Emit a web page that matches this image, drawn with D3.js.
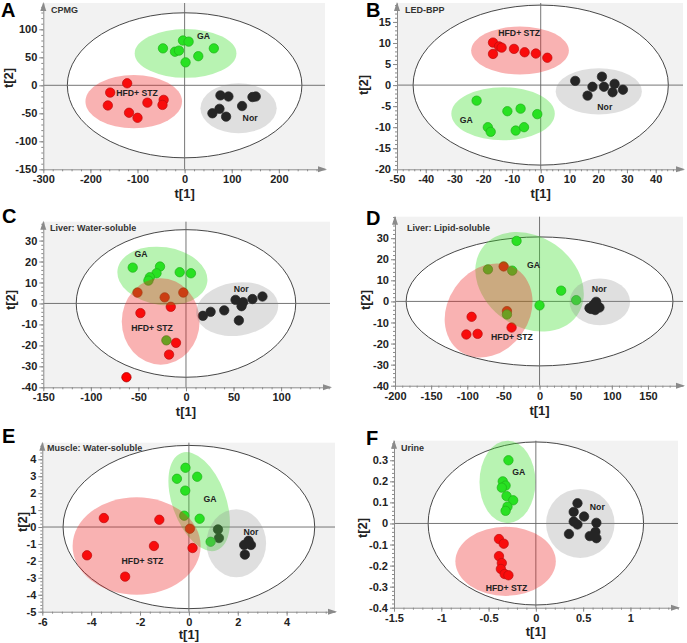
<!DOCTYPE html>
<html>
<head>
<meta charset="utf-8">
<script src="https://cdn.jsdelivr.net/npm/d3@7"></script>
<style>
  body { margin: 0; background: #fff; }
  svg { display: block; font-family: "Liberation Sans", Arial, sans-serif; }
  .tick text { font-size: 11px; font-weight: bold; fill: #222; }
  .axis path, .axis line { stroke: #8a8a8a; }
</style>
</head>
<body>
<svg id="chart" width="687" height="643"></svg>
<script>
// Score plots (t[1] vs t[2]) for six sample types

// A: CPMG
const cpmgGA = [[-46, 66], [-3.5, 80], [8.5, 78], [-20.5, 60], [-12, 62], [29, 52], [62, 66], [2, 41]];
const cpmgHFD = [[-122, 3.6], [-158, -13], [-163, -36], [-118, -49], [-100, -58], [-79, -31], [-44.5, -26], [-47, -35]];
const cpmgNor = [[76, -18], [93, -20], [74, -42], [59, -50], [88, -56], [122, -37], [144, -21], [151, -20]];

// B: LED-BPP
const ledGA = [[-22.3, -3.7], [-11.6, -6.2], [-7, -5.6], [-1.2, -6.9], [-18.4, -10], [-17.4, -11.1], [-8.7, -10.8], [-5.8, -10]];
const ledHFD = [[-16.6, 10.1], [-16.6, 7.4], [-14.5, 9.2], [-13.6, 8.9], [-9.3, 8.6], [-5.6, 7.8], [-1.7, 7.5], [2.3, 6.5]];
const ledNor = [[12, 1], [21.3, 2], [18, -0.4], [22, -0.4], [25.7, 0.3], [25, -1.7], [28.6, -1.1], [16.3, -2.5]];

// C: Liver water-soluble
const lwGA = [[-56, 17.1], [-27.3, 17.6], [-31, 14.4], [-38, 12.5], [-39.5, 10.9], [-6.6, 14.9], [5.2, 14.4], [-20.6, -17.6]];
const lwHFD = [[-51, 5.2], [-22.4, 2.9], [-2.8, 5.2], [-16, -1.6], [-47.9, -4.6], [-10.5, -18.8], [-17.8, -24.4], [-62.6, -35.2]];
const lwNor = [[17.8, -5.9], [25.9, -4], [40.2, -3.3], [52.1, 1.7], [60.1, 0.6], [58.4, -1.3], [69.9, 2.1], [80.4, 3.3], [55.6, -8.1]];

// D: Liver lipid-soluble
const llGA = [[-31.8, 28.7], [-71.4, 15.2], [-37.8, 14.6], [29.9, 5.1], [50.7, 0.6], [0, -1.9], [-45.1, -6.2]];
const llHFD = [[-49.7, 16.6], [-45.1, -4.6], [-94, -7.3], [-101.3, -15.7], [-85.7, -15.4], [-38.7, -12.4]];
const llNor = [[78.3, -0.2], [80.1, -2.2], [71.4, -3.6], [76.9, -4.1], [82.9, -2.9], [74.6, -1.7], [69.1, -3.2]];

// E: Muscle water-soluble
const mwGA = [[-0.14, 3.5], [-0.49, 2.85], [0.34, 2.97], [-0.15, 2.15], [-0.19, 0.67], [0.44, 0.49], [0.89, -0.87]];
const mwHFD = [[-3.48, 0.53], [-1.21, 0.43], [-1.43, -1.12], [-4.17, -1.67], [-2.61, -2.93], [0.15, -1.24], [0.04, -0.1]];
const mwNor = [[1.19, -0.14], [1.23, -0.65], [2.26, -1.06], [2.44, -0.81], [2.54, -1.06], [2.29, -1.63]];

// F: Urine
const urGA = [[-0.29, 0.30], [-0.35, 0.2], [-0.32, 0.18], [-0.36, 0.17], [-0.31, 0.13], [-0.24, 0.11], [-0.3, 0.08], [-0.32, 0.06]];
const urHFD = [[-0.39, -0.074], [-0.34, -0.096], [-0.39, -0.155], [-0.36, -0.188], [-0.37, -0.216], [-0.33, -0.24], [-0.29, -0.246]];
const urNor = [[0.44, 0.096], [0.40, 0.055], [0.51, 0.033], [0.40, 0.009], [0.44, -0.005], [0.64, 0.003], [0.35, -0.05], [0.63, -0.04], [0.57, -0.06], [0.64, -0.07]];

// group shading: [group, cx, cy, rx, ry] in score units
const cpmgShades = [['GA', 2, 57, 108, 43.5], ['HFD', -108, -29, 102.5, 47.6], ['Nor', 114.5, -41, 81, 44.6]];
const ledShades = [['HFD', -7.2, 8.2, 17, 5.7], ['GA', -13.1, -6.8, 18, 6.3], ['Nor', 20.2, -1.5, 15, 5.5]];
const lwShades = [['GA', -24.8, 13.1, 47.6, 13.8], ['HFD', -26.6, -8.6, 40.9, 20.6], ['Nor', 53.8, -2.7, 43.4, 12.7]];
const llShades = [['GA', -13.8, 9.3, 80.5, 21.4], ['HFD', -70.5, -4.3, 69, 19.3], ['Nor', 83.4, -0.2, 41.9, 11.1]];
const mwShades = [['GA', 0.42, 1.5, 2.12, 1.58], ['HFD', -2.14, -1.12, 2.62, 2.88], ['Nor', 1.94, -0.96, 1.22, 2.01]];
const urShades = [['GA', -0.30, 0.197, 0.296, 0.196], ['HFD', -0.32, -0.18, 0.531, 0.164], ['Nor', 0.47, 0, 0.362, 0.164]];

// Hotelling T2 ellipse radii
const hotelling = [[249, 129.5], [44.4, 19], [115.4, 35.2], [184.6, 30.6], [5.15, 4.82], [1.139, 0.387]];

// group labels: [text, x, y]
const cpmgLabels = [['GA', 40, 88], ['HFD+ STZ', -101, -13], ['Nor', 139, -59]];
const ledLabels = [['HFD+ STZ', -7.5, 12.3], ['GA', -25.9, -8.2], ['Nor', 22.3, -5.1]];
const lwLabels = [['GA', -47.2, 23.4], ['HFD+ STZ', -35.7, -11.7], ['Nor', 58, 6.8]];
const llLabels = [['GA', -8.3, 17.3], ['Nor', 82.5, 5.7], ['HFD+ STZ', -38.2, -16.9]];
const mwLabels = [['GA', 0.86, 1.63], ['Nor', 2.54, -0.3], ['HFD+ STZ', -1.9, -2.0]];
const urLabels = [['GA', -0.18, 0.246], ['Nor', 0.65, 0.077], ['HFD+ STZ', -0.31, -0.306]];

// tick labels
const xTicksA = [-300, -200, -100, 0, 100, 200];
const yTicksA = [-150, -100, -50, 0, 50, 100];
const xTicksB = [-50, -40, -30, -20, -10, 0, 10, 20, 30, 40];
const yTicksB = [-20, -15, -10, -5, 0, 5, 10, 15];
const xTicksC = [-150, -100, -50, 0, 50, 100];
const yTicksC = [-40, -30, -20, -10, 0, 10, 20, 30];
const xTicksD = [-200, -150, -100, -50, 0, 50, 100, 150];
const yTicksD = [-40, -30, -20, -10, 0, 10, 20, 30];
const xTicksE = [-6, -4, -2, 0, 2, 4];
const yTicksE = [-5, -4, -3, -2, -1, 0, 1, 2, 3, 4];
const xTicksF = [-1.5, -1, -0.5, 0, 0.5, 1];
const yTicksF = [-0.4, -0.3, -0.2, -0.1, 0, 0.1, 0.2, 0.3];

const panelTitles = ['CPMG', 'LED-BPP', 'Liver: Water-soluble', 'Liver: Lipid-soluble', 'Muscle: Water-soluble', 'Urine'];
const panelLetters = ['A', 'B', 'C', 'D', 'E', 'F'];

// layout (pixels) for each panel
const panels = [
  { xDom: [-300, 298], yDom: [-150, 147], xR: [43.3, 325], yR: [169.3, 3], xT: xTicksA, yT: yTicksA,
    ga: cpmgGA, hfd: cpmgHFD, nor: cpmgNor, shades: cpmgShades, labels: cpmgLabels, rot: {},
    letter: [1, 17], title: [51, 13], yLab: 8, yLabY: 78, xLabDy: 29 },
  { xDom: [-50, 49.5], yDom: [-20, 19.5], xR: [397, 683], yR: [169.3, 3], xT: xTicksB, yT: yTicksB,
    ga: ledGA, hfd: ledHFD, nor: ledNor, shades: ledShades, labels: ledLabels, rot: {},
    letter: [366, 17], title: [405, 13], yLab: 363, yLabY: 85, xLabDy: 29 },
  { xDom: [-150, 151.4], yDom: [-40, 39], xR: [43.3, 330], yR: [387.3, 221.7], xT: xTicksC, yT: yTicksC,
    ga: lwGA, hfd: lwHFD, nor: lwNor, shades: lwShades, labels: lwLabels, rot: { GA: 8, Nor: -8 },
    letter: [2, 223], title: [50, 231], yLab: 10, yLabY: 300, xLabDy: 29 },
  { xDom: [-200, 198.5], yDom: [-40, 40.2], xR: [395, 683], yR: [385.7, 216.7], xT: xTicksD, yT: yTicksD,
    ga: llGA, hfd: llHFD, nor: llNor, shades: llShades, labels: llLabels, rot: { GA: 35, HFD: -55 },
    letter: [366, 225], title: [407, 231], yLab: 365, yLabY: 300, xLabDy: 29 },
  { xDom: [-6, 5.98], yDom: [-5, 4.98], xR: [42.3, 335], yR: [611.7, 442.7], xT: xTicksE, yT: yTicksE,
    ga: mwGA, hfd: mwHFD, nor: mwNor, shades: mwShades, labels: mwLabels, rot: { GA: 70 },
    letter: [2, 443], title: [47, 451], yLab: 22, yLabY: 522, xLabDy: 27 },
  { xDom: [-1.5, 1.503], yDom: [-0.4, 0.393], xR: [394, 678], yR: [607.7, 440.7], xT: xTicksF, yT: yTicksF,
    ga: urGA, hfd: urHFD, nor: urNor, shades: urShades, labels: urLabels, rot: {},
    letter: [366, 445], title: [401, 451], yLab: 362, yLabY: 528, xLabDy: 28 }
];

const pointFill = { GA: '#22e322', HFD: '#ff0000', Nor: '#000000' };
const pointStroke = { GA: '#159915', HFD: '#a00000', Nor: '#000000' };
const shadeFill = { GA: '#33dd22', HFD: '#ee2222', Nor: '#888888' };
const shadeOpacity = { GA: 0.35, HFD: 0.35, Nor: 0.27 };

const svg = d3.select('#chart');

function minorTicks(dom, major) {
  const step = (major[1] - major[0]) / 5;
  const out = [];
  const start = major[0] + Math.ceil((dom[0] - major[0]) / step - 1e-9) * step;
  for (let v = start; v <= dom[1] + 1e-9; v += step) out.push(+v.toFixed(6));
  return out;
}

panels.forEach((p, i) => {
  const x = d3.scaleLinear().domain(p.xDom).range(p.xR);
  const y = d3.scaleLinear().domain(p.yDom).range(p.yR);
  const kx = Math.abs(x(1) - x(0));
  const ky = Math.abs(y(1) - y(0));
  const g = svg.append('g');

  // plot background
  g.append('rect')
    .attr('x', p.xR[0]).attr('y', p.yR[1])
    .attr('width', p.xR[1] - p.xR[0]).attr('height', p.yR[0] - p.yR[1])
    .attr('fill', '#f2f2f2');

  // Hotelling ellipse
  g.append('ellipse')
    .attr('cx', x(0)).attr('cy', y(0))
    .attr('rx', hotelling[i][0] * kx).attr('ry', hotelling[i][1] * ky)
    .attr('fill', '#fff').attr('stroke', '#333').attr('stroke-width', 0.9);

  // zero lines
  g.append('line')
    .attr('x1', p.xR[0]).attr('x2', p.xR[1]).attr('y1', y(0)).attr('y2', y(0))
    .attr('stroke', '#666').attr('stroke-width', 0.9);
  g.append('line')
    .attr('x1', x(0)).attr('x2', x(0)).attr('y1', p.yR[0]).attr('y2', p.yR[1])
    .attr('stroke', '#666').attr('stroke-width', 0.9);

  // points
  const groups = [['Nor', p.nor], ['HFD', p.hfd], ['GA', p.ga]];
  groups.forEach(([name, pts]) => {
    g.selectAll(null).data(pts).enter().append('circle')
      .attr('cx', d => x(d[0])).attr('cy', d => y(d[1]))
      .attr('r', 4.7)
      .attr('fill', pointFill[name]).attr('stroke', pointStroke[name]).attr('stroke-width', 0.7);
  });

  // group shading drawn over the points
  g.selectAll(null).data(p.shades).enter().append('ellipse')
    .attr('transform', d => `translate(${x(d[1])},${y(d[2])}) rotate(${p.rot[d[0]] || 0})`)
    .attr('rx', d => d[3] * kx).attr('ry', d => d[4] * ky)
    .attr('fill', d => shadeFill[d[0]]).attr('fill-opacity', d => shadeOpacity[d[0]]);

  // group labels
  g.selectAll(null).data(p.labels).enter().append('text')
    .attr('x', d => x(d[1])).attr('y', d => y(d[2]))
    .attr('dy', '0.35em').attr('text-anchor', 'middle')
    .attr('font-size', 8.7).attr('font-weight', 'bold').attr('fill', '#222')
    .text(d => d[0]);

  // axes
  const fmt = d => String(d);
  const xAxis = g.append('g').attr('class', 'axis')
    .attr('transform', `translate(0,${p.yR[0]})`)
    .call(d3.axisBottom(x).tickValues(p.xT).tickFormat(fmt).tickSize(4).tickSizeOuter(0));
  g.append('g').attr('class', 'axis')
    .attr('transform', `translate(0,${p.yR[0]})`)
    .call(d3.axisBottom(x).tickValues(minorTicks(p.xDom, p.xT)).tickFormat('').tickSize(2).tickSizeOuter(0))
    .select('.domain').remove();
  const yAxis = g.append('g').attr('class', 'axis')
    .attr('transform', `translate(${p.xR[0]},0)`)
    .call(d3.axisLeft(y).tickValues(p.yT).tickFormat(fmt).tickSize(4).tickSizeOuter(0));
  g.append('g').attr('class', 'axis')
    .attr('transform', `translate(${p.xR[0]},0)`)
    .call(d3.axisLeft(y).tickValues(minorTicks(p.yDom, p.yT)).tickFormat('').tickSize(2).tickSizeOuter(0))
    .select('.domain').remove();
  xAxis.selectAll('.tick text').attr('dy', '0.62em');
  yAxis.selectAll('.tick text').attr('x', -6);

  // axis arrows
  const ax = p.xR[1], ay = p.yR[0];
  g.append('path')
    .attr('d', `M${ax + 2},${ay}L${ax - 7},${ay - 3}L${ax - 7},${ay + 3}Z`)
    .attr('fill', '#8a8a8a');
  const bx = p.xR[0], by = p.yR[1];
  g.append('path')
    .attr('d', `M${bx},${by - 1}L${bx - 3},${by + 8}L${bx + 3},${by + 8}Z`)
    .attr('fill', '#8a8a8a');

  // axis titles
  g.append('text')
    .attr('x', x(0)).attr('y', p.yR[0] + p.xLabDy)
    .attr('text-anchor', 'middle')
    .attr('font-size', 13).attr('font-weight', 'bold').attr('fill', '#222')
    .text('t[1]');
  g.append('text')
    .attr('transform', `translate(${p.yLab},${p.yLabY}) rotate(-90)`)
    .attr('dy', '0.35em').attr('text-anchor', 'middle')
    .attr('font-size', 13).attr('font-weight', 'bold').attr('fill', '#222')
    .text('t[2]');

  // panel title and letter
  g.append('text')
    .attr('x', p.title[0]).attr('y', p.title[1])
    .attr('font-size', 9).attr('font-weight', 'bold').attr('fill', '#333')
    .text(panelTitles[i]);
  g.append('text')
    .attr('x', p.letter[0]).attr('y', p.letter[1])
    .attr('font-size', 20).attr('font-weight', 'bold').attr('fill', '#000')
    .text(panelLetters[i]);
});
</script>
</body>
</html>
